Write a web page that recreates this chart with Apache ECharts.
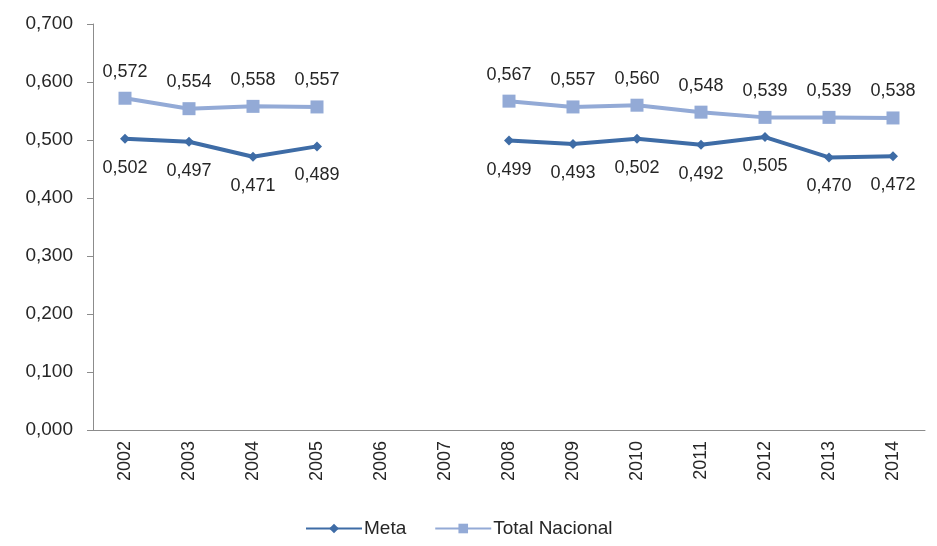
<!DOCTYPE html>
<html>
<head>
<meta charset="utf-8">
<script src="https://cdn.jsdelivr.net/npm/echarts@6/dist/echarts.min.js"></script>
<style>
  html, body { margin: 0; padding: 0; background: #fff; }
  #chart { width: 937px; height: 546px; }
</style>
</head>
<body>
<div id="chart"></div>
<script>
const years = ["2002", "2003", "2004", "2005", "2006", "2007", "2008",
  "2009", "2010", "2011", "2012", "2013", "2014"];
const meta = [0.502, 0.497, 0.471, 0.489, null, null, 0.499,
  0.493, 0.502, 0.492, 0.505, 0.470, 0.472];
const totalNacional = [0.572, 0.554, 0.558, 0.557, null, null, 0.567,
  0.557, 0.560, 0.548, 0.539, 0.539, 0.538];

const COLORS = {
  meta: "#3e6ca6",
  total: "#93aad6",
  text: "#262626",
  axis: "#8c8c8c",
};

const fmt = (v) => v.toFixed(3).replace(".", ",");

const chart = echarts.init(document.getElementById("chart"));

chart.setOption({
  animation: false,
  textStyle: { fontFamily: "Liberation Sans, Arial, sans-serif" },
  grid: { left: 93, right: 12, top: 24, bottom: 116 },
  legend: {
    bottom: 3,
    left: 300,
    itemWidth: 56,
    itemHeight: 12,
    itemGap: 28,
    textStyle: {
      fontSize: 19,
      color: COLORS.text,
      padding: [0, 0, 0, -3],
    },
    data: ["Meta", "Total Nacional"],
  },
  xAxis: {
    type: "category",
    data: years,
    boundaryGap: true,
    axisLine: { lineStyle: { color: COLORS.axis, width: 1 } },
    axisTick: { alignWithLabel: false, length: 6, lineStyle: { color: COLORS.axis } },
    axisLabel: {
      rotate: 90,
      fontSize: 18,
      color: COLORS.text,
      margin: 11,
    },
  },
  yAxis: {
    type: "value",
    min: 0,
    max: 0.7,
    interval: 0.1,
    splitLine: { show: false },
    axisLine: { show: true, lineStyle: { color: COLORS.axis, width: 1 } },
    axisTick: { show: true, length: 6, lineStyle: { color: COLORS.axis } },
    axisLabel: {
      fontSize: 19,
      color: COLORS.text,
      margin: 20,
      formatter: fmt,
    },
  },
  series: [
    {
      name: "Meta",
      type: "line",
      data: meta,
      connectNulls: false,
      symbol: "diamond",
      symbolSize: 10,
      lineStyle: { color: COLORS.meta, width: 4 },
      itemStyle: { color: COLORS.meta },
      label: {
        show: true,
        position: "bottom",
        distance: 15,
        fontSize: 18,
        color: COLORS.text,
        formatter: (p) => fmt(p.value),
      },
    },
    {
      name: "Total Nacional",
      type: "line",
      data: totalNacional,
      connectNulls: false,
      symbol: "rect",
      symbolSize: 13,
      lineStyle: { color: COLORS.total, width: 4 },
      itemStyle: { color: COLORS.total },
      label: {
        show: true,
        position: "top",
        distance: 11,
        fontSize: 18,
        color: COLORS.text,
        formatter: (p) => fmt(p.value),
      },
    },
  ],
});
</script>
</body>
</html>
